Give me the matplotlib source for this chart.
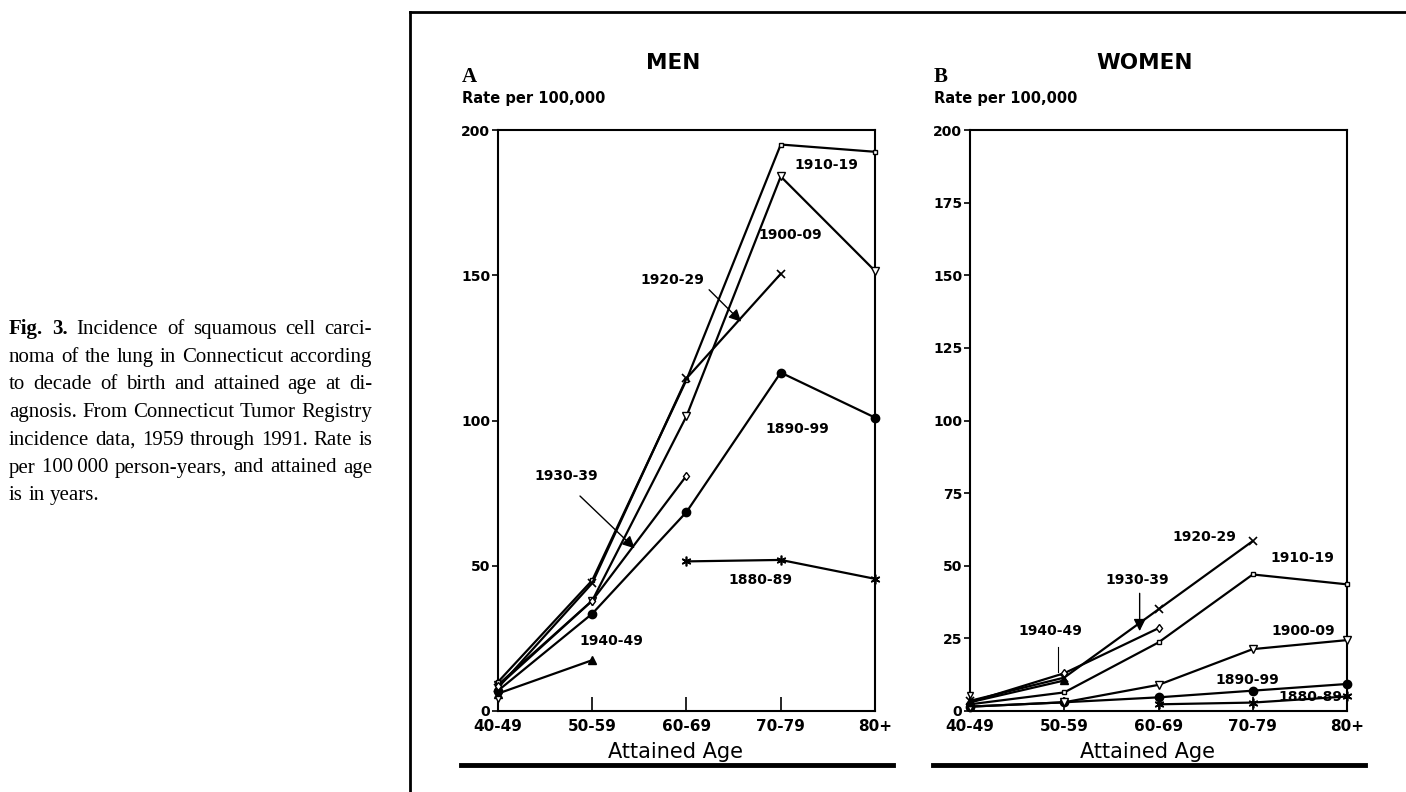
import numpy as np
import matplotlib.pyplot as plt

nan = np.nan

# data
ages = ['40-49', '50-59', '60-69', '70-79', '80+']
cohorts = ['1880-89', '1890-99', '1900-09', '1910-19', '1920-29', '1930-39', '1940-49', '1950-59']

men_rates = [
    [nan, nan, 51.5, 52.0, 45.5],      # 1880-89
    [7.0, 33.5, 68.5, 116.5, 101.0],   # 1890-99
    [9.0, 38.0, 101.5, 184.0, 151.5],  # 1900-09
    [10.0, 45.0, 114.0, 195.0, 192.5], # 1910-19
    [8.0, 44.0, 114.5, 150.5, nan],    # 1920-29
    [8.5, 38.0, 81.0, nan, nan],       # 1930-39
    [6.0, 17.5, nan, nan, nan],        # 1940-49
    [4.0, nan, nan, nan, nan],         # 1950-59
]

women_rates = [
    [nan, nan, 2.3, 2.9, 5.0],         # 1880-89
    [1.5, 3.0, 4.7, 7.0, 9.3],         # 1890-99
    [1.5, 3.0, 9.0, 21.3, 24.4],       # 1900-09
    [2.3, 6.4, 23.6, 47.0, 43.6],      # 1910-19
    [3.5, 11.5, 35.0, 58.5, nan],      # 1920-29
    [3.0, 13.0, 28.5, nan, nan],       # 1930-39
    [3.0, 10.5, nan, nan, nan],        # 1940-49
    [5.5, nan, nan, nan, nan],         # 1950-59
]

caption = [
    [('Fig.', 'bold'), ('3.', 'bold'), ('Incidence', 'normal'), ('of', 'normal'),
     ('squamous', 'normal'), ('cell', 'normal'), ('carci-', 'normal')],
    'noma of the lung in Connecticut according',
    'to decade of birth and attained age at di-',
    'agnosis. From Connecticut Tumor Registry',
    'incidence data, 1959 through 1991. Rate is',
    'per 100\u2009000 person-years, and attained age',
    'is in years.',
]

# marker style per cohort
styles = {
    '1880-89': dict(marker=(6, 2, 0), ms=7, mfc='black', mew=1.2),
    '1890-99': dict(marker='o', ms=6, mfc='black', mew=1),
    '1900-09': dict(marker='v', ms=6, mfc='white', mew=1),
    '1910-19': dict(marker='s', ms=3.5, mfc='white', mew=1),
    '1920-29': dict(marker='x', ms=6, mfc='black', mew=1.2),
    '1930-39': dict(marker='d', ms=4.5, mfc='white', mew=1),
    '1940-49': dict(marker='^', ms=6, mfc='black', mew=1),
    '1950-59': dict(marker='v', ms=5, mfc='white', mew=1),
}

W, H = 1406, 792


def fx(x):
    return x / W


def fy(y):
    return 1 - y / H


plt.rcParams['font.family'] = ['DejaVu Sans']

fig = plt.figure(figsize=(W / 100, H / 100), dpi=100)


def draw_panel(ax, rates, yticks):
    x = np.arange(len(ages))
    for name, vals in zip(cohorts, rates):
        ax.plot(x, vals, color='black', lw=1.6, mec='black', clip_on=False,
                zorder=3, **styles[name])
    ax.set_xlim(0, 4)
    ax.set_ylim(0, 200)
    ax.set_xticks(x)
    ax.set_xticklabels(ages, fontsize=11, fontweight='bold')
    ax.tick_params(axis='x', direction='in', length=10, width=1.2, pad=6)
    for t in ax.xaxis.get_major_ticks():
        t.tick1line.set_visible(t.get_loc() not in (0, 4))
        t.tick2line.set_visible(False)
    ax.set_yticks(yticks)
    ax.set_yticklabels([str(v) for v in yticks], fontsize=10, fontweight='bold')
    ax.tick_params(axis='y', direction='out', length=4, width=1.2, pad=1.5)
    for s in ax.spines.values():
        s.set_linewidth(1.5)


def label(ax, text, x, y):
    ax.text(x, y, text, fontsize=10, fontweight='bold', ha='center', va='center')


def pointer(ax, text, xy, xytext, start):
    ax.annotate(text, xy=xy, xytext=xytext, fontsize=10, fontweight='bold',
                ha='center', va='center')
    ax.annotate('', xy=xy, xytext=start,
                arrowprops=dict(arrowstyle='-|>', color='black', lw=1.0,
                                mutation_scale=18, shrinkA=0, shrinkB=0))


# men
ax_m = fig.add_axes([fx(498), fy(711), 377 / W, 581 / H])
draw_panel(ax_m, men_rates, [0, 50, 100, 150, 200])
label(ax_m, '1910-19', 3.48, 188)
label(ax_m, '1900-09', 3.10, 164)
label(ax_m, '1890-99', 3.18, 97)
label(ax_m, '1880-89', 2.78, 45)
label(ax_m, '1940-49', 1.20, 24)
pointer(ax_m, '1920-29', (2.58, 134), (1.85, 148.5), (2.24, 145))
pointer(ax_m, '1930-39', (1.45, 56), (0.72, 81), (0.87, 74))

# women
ax_w = fig.add_axes([fx(970), fy(711), 377 / W, 581 / H])
draw_panel(ax_w, women_rates, list(range(0, 201, 25)))
label(ax_w, '1920-29', 2.49, 60)
label(ax_w, '1910-19', 3.53, 52.7)
label(ax_w, '1900-09', 3.54, 27.5)
label(ax_w, '1890-99', 2.94, 10.7)
label(ax_w, '1880-89', 3.61, 4.8)
label(ax_w, '1940-49', 0.85, 27.5)
ax_w.plot([0.93, 0.93], [22, 13.5], color='black', lw=0.8)
pointer(ax_w, '1930-39', (1.80, 27.5), (1.77, 45), (1.80, 40.5))

# panel headings
for left, letter, title in [(498, 'A', 'MEN'), (970, 'B', 'WOMEN')]:
    fig.text(fx(left - 36), fy(82), letter, fontsize=15, fontweight='bold',
             family=['Liberation Serif', 'DejaVu Serif'], va='baseline')
    fig.text(fx(left + 175), fy(63), title, fontsize=15.5, fontweight='bold',
             ha='center', va='center')
    fig.text(fx(left - 36), fy(98), 'Rate per 100,000', fontsize=10.5,
             fontweight='bold', va='center')
    fig.text(fx(left + 177), fy(752), 'Attained Age', fontsize=15,
             ha='center', va='center')
    fig.add_artist(plt.Line2D([fx(left - 37), fx(left + 395)], [fy(765), fy(765)],
                              color='black', lw=3.5))

# outer frame
fig.add_artist(plt.Line2D([fx(410), fx(410)], [fy(12), 0], color='black', lw=2))
fig.add_artist(plt.Line2D([fx(410), 1], [fy(12), fy(12)], color='black', lw=2))

# caption, justified
serif = ['Liberation Serif', 'DejaVu Serif']
renderer = fig.canvas.get_renderer()
cap_left, cap_right = 9, 372
base0, step = 334, 27.7
for i, line in enumerate(caption):
    if isinstance(line, str):
        tokens = [(w, 'normal') for w in line.split(' ')]
    else:
        tokens = line
    arts = [fig.text(0, fy(base0 + i * step), w, fontsize=15, fontweight=wt,
                     family=serif, va='baseline') for w, wt in tokens]
    widths = [a.get_window_extent(renderer).width for a in arts]
    if i < len(caption) - 1:
        gap = (cap_right - cap_left - sum(widths)) / (len(arts) - 1)
    else:
        sp = fig.text(0, 0, 'a a', fontsize=15, family=serif)
        sp2 = fig.text(0, 0, 'aa', fontsize=15, family=serif)
        gap = sp.get_window_extent(renderer).width - sp2.get_window_extent(renderer).width
        sp.remove()
        sp2.remove()
    xpos = cap_left
    for a, w in zip(arts, widths):
        a.set_x(fx(xpos))
        xpos += w + gap

fig.savefig('out.png', dpi=100)
